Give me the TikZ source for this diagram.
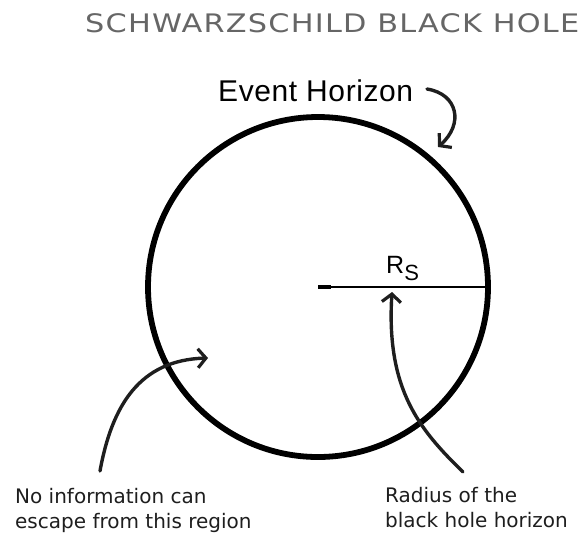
\documentclass[tikz,border=0pt]{standalone}
\usepackage{fontspec}
\usetikzlibrary{arrows.meta}
\newfontfamily\titlefont[LetterSpace=4]{DejaVu Sans}
\newfontfamily\notefont{DejaVu Sans}
\newfontfamily\labfont[LetterSpace=2]{Liberation Sans}
\definecolor{titlegray}{HTML}{666666}
\definecolor{ink}{HTML}{1E1E1E}
\tikzset{
  handarrow/.style={draw=ink, line width=3.4pt, line cap=round,
    -{Straight Barb[length=8pt,width=19pt,line width=3.2pt]}},
  notetext/.style={anchor=base west, inner sep=0pt, align=left, text=ink,
    font=\notefont\fontsize{20}{25}\selectfont},
}
\begin{document}
\begin{tikzpicture}[x=1pt,y=-1pt]
\useasboundingbox (0,0) rectangle (588,558);
% title
\node[anchor=base west, inner sep=0pt, text=titlegray,
  font=\titlefont\fontsize{25.5}{30}\selectfont] (title) at (85,32)
  {\scalebox{1.19}[1]{SCHWARZSCHILD BLACK HOLE}};
% black hole horizon
\node[circle, minimum size=340pt, inner sep=0pt] (bh) at (318,287) {};
\draw[black, line width=5.8pt] (bh.center) circle[radius=170];
% radius
\draw[line width=2.4pt, black] (bh.center) -- (bh.east);
\draw[line width=4.5pt, black] (bh.center) -- ++(13,0);
\node[anchor=base west, inner sep=0pt, font=\labfont\fontsize{25}{25}\selectfont] (rs) at (386,273)
  {R\raisebox{-7pt}{\fontsize{22}{22}\selectfont S}};
% event horizon label
\node[anchor=base west, inner sep=0pt, font=\labfont\fontsize{30}{30}\selectfont] (eh) at (218,101) {Event Horizon};
% arrows
\coordinate (ehs) at (427,89);
\coordinate (eht) at (438,147);
\draw[handarrow] (ehs) .. controls (458,94) and (464,124) .. (eht);
\coordinate (ls) at (100,471);
\coordinate (lt) at (208,358);
\draw[handarrow] (ls) .. controls (112,405) and (140,360) .. (lt);
\coordinate (rsrc) at (463,472);
\coordinate (rt) at (392,292);
\draw[handarrow] (rsrc) .. controls (420,430) and (386,390) .. (rt);
% notes
\node[notetext] (noinfo) at (15,528) {No information can\\escape from this region};
\node[notetext] (radius) at (385,527) {Radius of the\\black hole horizon};
\end{tikzpicture}
\end{document}
